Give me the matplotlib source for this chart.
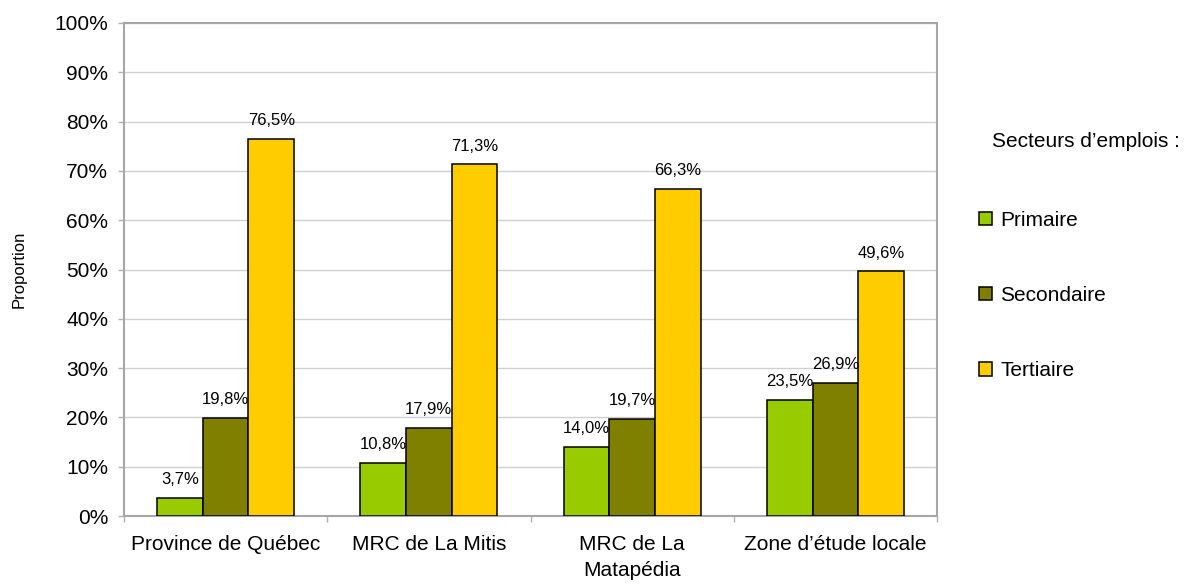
import numpy as np
import matplotlib
matplotlib.use("Agg")
from matplotlib import pyplot as plt
from matplotlib.ticker import FuncFormatter, FixedLocator

plt.rcParams['font.family'] = ['Liberation Sans', 'DejaVu Sans']

# Répartition des emplois par secteur (%)
categories = ["Province de Québec", "MRC de La Mitis", "MRC de La\nMatapédia", "Zone d’étude locale"]
primaire = [3.7, 10.8, 14.0, 23.5]
secondaire = [19.8, 17.9, 19.7, 26.9]
tertiaire = [76.5, 71.3, 66.3, 49.6]
series_names = ["Primaire", "Secondaire", "Tertiaire"]
colors = ["#99cc00", "#808000", "#ffcc00"]


def fmt_pct(v):
    return f"{v:.1f}".replace(".", ",") + "%"


fig = plt.figure(figsize=(11.86, 5.86), dpi=100)
ax = fig.add_axes([124 / 1186, 1 - 516 / 586, 813 / 1186, 493 / 586])

x = np.arange(len(categories))
width = 0.225
bars = []
for i, (vals, name, col) in enumerate(zip([primaire, secondaire, tertiaire], series_names, colors)):
    b = ax.bar(x + (i - 1) * width, vals, width, color=col, edgecolor="black",
               linewidth=1.1, label=name, zorder=3)
    bars.append(b)
    # value labels above each bar
    for rect, v in zip(b, vals):
        ax.annotate(fmt_pct(v), (rect.get_x() + rect.get_width() / 2, v),
                    xytext=(0, 10), textcoords="offset points",
                    ha="center", va="baseline", fontsize=12, zorder=4)

ax.set_xlim(-0.5, len(categories) - 0.5)
ax.set_ylim(0, 100)
ax.set_yticks(np.arange(0, 101, 10))
ax.yaxis.set_major_formatter(FuncFormatter(lambda v, p: f"{v:.0f}%"))
ax.grid(axis="y", color="#d0d0d0", linewidth=1.0, zorder=0)

# category labels centred, ticks at the boundaries
ax.set_xticks(x)
ax.set_xticklabels(categories, fontsize=15)
for lbl in ax.get_xticklabels():
    lbl.set_linespacing(1.45)
ax.xaxis.set_minor_locator(FixedLocator(np.arange(-0.5, len(categories), 1.0)))
ax.tick_params(axis="x", which="major", length=0, pad=14)
ax.tick_params(axis="x", which="minor", length=4.3, color="#b0b0b0", width=1)
ax.tick_params(axis="y", length=4.3, color="#b0b0b0", width=1, pad=7, labelsize=15)

for s in ax.spines.values():
    s.set_color("#a6a6a6")
    s.set_linewidth(1.5)

ax.set_ylabel("Proportion", fontsize=12)
ax.yaxis.set_label_coords(-0.12, 0.5)

fig.text(992 / 1186, 1 - 147 / 586, "Secteurs d’emplois :", fontsize=15, va="baseline", ha="left")
ax.legend(handles=bars, loc="upper left", bbox_to_anchor=(979 / 1186, 1 - 211 / 586),
          bbox_transform=fig.transFigure, frameon=False, fontsize=15,
          borderpad=0, borderaxespad=0, handlelength=0.62, handleheight=0.62,
          handletextpad=0.4, labelspacing=2.69)

fig.savefig("out.png", dpi=100)
